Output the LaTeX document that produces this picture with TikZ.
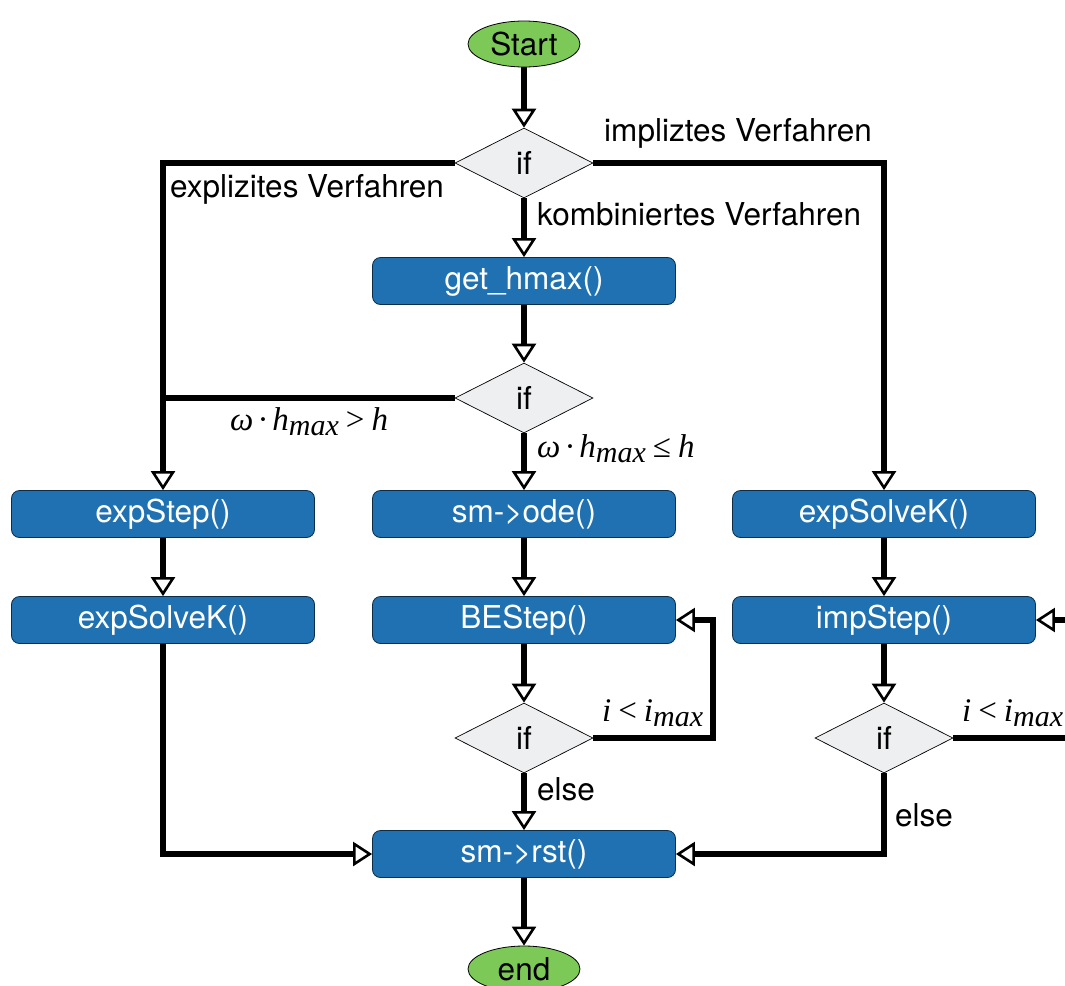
\documentclass[tikz,border=0pt]{standalone}
\usepackage{fontspec}
\setmainfont{TeX Gyre Heros}
\newfontfamily\lserif{Liberation Serif}
\usetikzlibrary{shapes.geometric,arrows.meta}
\definecolor{boxblue}{RGB}{31,113,178}
\definecolor{startgreen}{RGB}{125,201,87}
\definecolor{ifgray}{RGB}{238,239,241}
\newcommand{\mi}[1]{{\lserif\itshape #1}}
\newcommand{\mr}[1]{{\lserif #1}}
\newcommand{\msub}[1]{\raisebox{-5pt}{\fontsize{30}{30}\selectfont\lserif\itshape #1}}
\newcommand{\bsp}{\hspace{4pt}}
\newcommand{\rsp}{\hspace{7pt}}
\begin{document}
\begin{tikzpicture}[x=1pt,y=-1pt,
  font=\fontsize{31.5}{38}\selectfont,
  proc/.style={rectangle, rounded corners=8pt, fill=boxblue, draw=black!60!boxblue, line width=0.8pt,
    minimum width=303pt, minimum height=47pt, text=white, inner sep=0pt},
  term/.style={ellipse, fill=startgreen, draw=black, line width=0.8pt,
    minimum width=112pt, minimum height=46pt, inner sep=0pt},
  cond/.style={diamond, aspect=2, fill=ifgray, draw=black, line width=0.7pt,
    minimum width=138pt, minimum height=70pt, inner sep=0pt},
  flow/.style={line width=5.5pt, -{Triangle[open, width=24pt, length=19pt, line width=2.6pt]}},
  plain/.style={line width=5.5pt},
  lab/.style={inner sep=0pt, anchor=west},
  mlab/.style={inner sep=0pt, anchor=west, font=\fontsize{33}{38}\selectfont}]
\useasboundingbox (0,0) rectangle (1065,985);
\clip (0,0) rectangle (1065,985);

% nodes
\node[term] (start) at (524,44) {Start};
\node[cond] (if1) at (524,163) {if};
\node[proc] (hmax) at (524,281) {get\_hmax()};
\node[cond] (if2) at (524,398) {if};
\node[proc] (expstep) at (163,514) {expStep()};
\node[proc] (ode) at (524,514) {sm->ode()};
\node[proc] (solveR) at (884,514) {expSolveK()};
\node[proc] (solveL) at (163,620) {expSolveK()};
\node[proc] (bestep) at (524,620) {BEStep()};
\node[proc] (impstep) at (884,620) {impStep()};
\node[cond] (if3) at (524,738) {if};
\node[cond] (if4) at (884,738) {if};
\node[proc] (rst) at (524,854) {sm->rst()};
\node[term] (end) at (524,969) {end};
\coordinate (loop3) at (713,738);
\coordinate (loop4) at (1100,738);

% connectors
\draw[flow] (start) -- (if1);
\draw[flow] (if1) -- (hmax);
\draw[flow] (if1.west) -| (expstep);
\draw[flow] (if1.east) -| (solveR);
\draw[flow] (hmax) -- (if2);
\draw[plain] (if2.west) -- (if2.west -| expstep);
\draw[flow] (if2) -- (ode);
\draw[flow] (expstep) -- (solveL);
\draw[flow] (ode) -- (bestep);
\draw[flow] (bestep) -- (if3);
\draw[flow] (if3.east) -- (loop3) |- (bestep.east);
\draw[flow] (if3) -- (rst);
\draw[flow] (solveR) -- (impstep);
\draw[flow] (impstep) -- (if4);
\draw[flow] (if4.east) -- (loop4) |- (impstep.east);
\draw[flow] (solveL) |- (rst);
\draw[flow] (if4) |- (rst);
\draw[flow] (rst) -- (end);

% labels
\node[lab] (lbimp) at (604,133) {impliztes Verfahren};
\node[lab] (lbexp) at (170,189) {explizites Verfahren};
\node[lab] (lbkom) at (537,214) {kombiniertes Verfahren};
\node[mlab] (lbgt) at (230,422) {\mi{ω}\bsp\mr{·}\bsp\mi{h}\msub{max}\rsp\mr{>}\rsp\mi{h}};
\node[mlab] (lble) at (537,449) {\mi{ω}\bsp\mr{·}\bsp\mi{h}\msub{max}\rsp\mr{≤}\rsp\mi{h}};
\node[mlab] (lbi3) at (602,713) {\mi{i}\rsp\mr{<}\rsp\mi{i}\msub{max}};
\node[mlab] (lbi4) at (962,713) {\mi{i}\rsp\mr{<}\rsp\mi{i}\msub{max}};
\node[lab] (lbelse3) at (537,789) {else};
\node[lab] (lbelse4) at (895,815) {else};
\end{tikzpicture}
\end{document}
